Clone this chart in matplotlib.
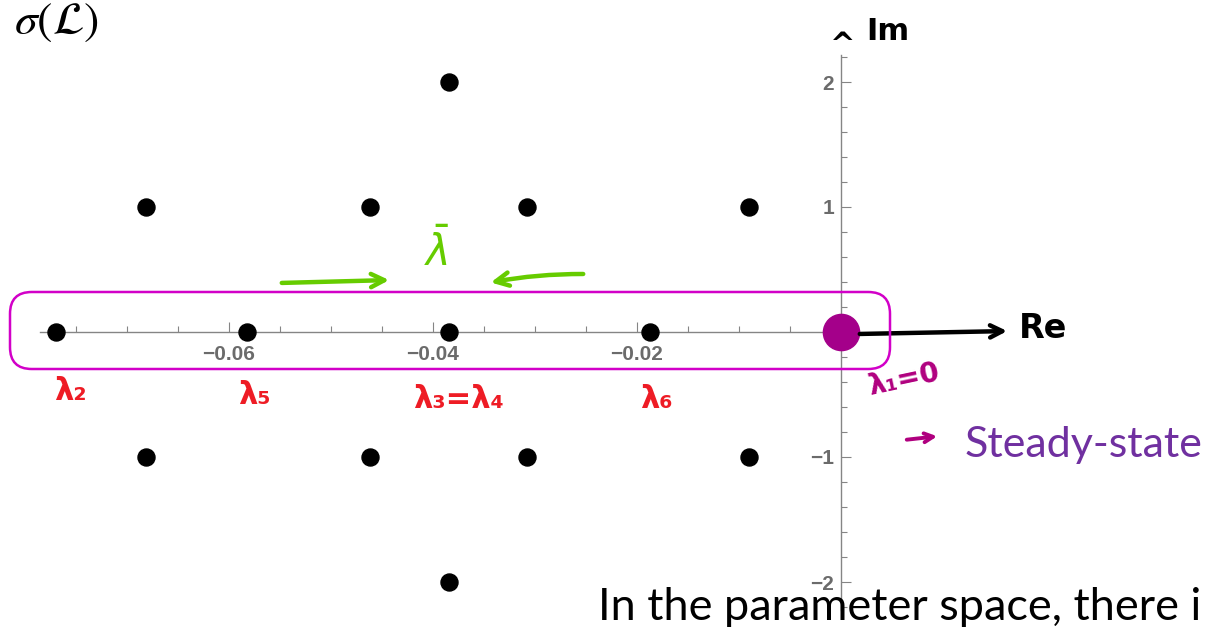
import matplotlib
matplotlib.use("Agg")
import matplotlib.pyplot as plt
from matplotlib.ticker import FixedLocator, FixedFormatter
from matplotlib.patches import FancyBboxPatch

# ---------------- data ----------------
re_axis = [-0.0770, -0.0582, -0.0384, -0.0187]          # eigenvalues on the real axis
re_upper = [-0.0681, -0.0462, -0.0308, -0.0090]         # Im = +1
im_upper = [1, 1, 1, 1]
re_lower = [-0.0681, -0.0462, -0.0308, -0.0090]         # Im = -1
im_lower = [-1, -1, -1, -1]
re_far = [-0.0384, -0.0384]                             # Im = +-2
im_far = [2, -2]
steady_re = [0.0]
steady_im = [0.0]

x_major = [-0.06, -0.04, -0.02]
x_major_labels = ["\u22120.06", "\u22120.04", "\u22120.02"]
x_minor = [-0.075, -0.07, -0.065, -0.055, -0.05, -0.045, -0.035, -0.03,
           -0.025, -0.015, -0.01, -0.005]
y_major = [-2, -1, 1, 2]
y_major_labels = ["\u22122", "\u22121", "1", "2"]
y_minor = [-2.2, -1.8, -1.6, -1.4, -1.2, -0.8, -0.6, -0.4, -0.2,
           0.2, 0.4, 0.6, 0.8, 1.2, 1.4, 1.6, 1.8, 2.2]

W, H = 1210, 627
fig = plt.figure(figsize=(W / 100, H / 100), dpi=100)
ax = fig.add_axes([0, 0, 1, 1])
ax.set_xlim(-841 / 10200, 369 / 10200)
ax.set_ylim((332 - H) / 125, 332 / 125)


def F(xp, yp):
    return (xp / W, 1 - yp / H)


gray = "#858585"
for s in ["top", "right"]:
    ax.spines[s].set_visible(False)
ax.spines["left"].set_position(("data", 0))
ax.spines["bottom"].set_position(("data", 0))
ax.spines["left"].set_bounds(-2.22, 2.22)
ax.spines["bottom"].set_bounds(-0.0785, 0.001)
for s in ["left", "bottom"]:
    ax.spines[s].set_color(gray)
    ax.spines[s].set_linewidth(1.0)

ax.xaxis.set_major_locator(FixedLocator(x_major))
ax.xaxis.set_major_formatter(FixedFormatter(x_major_labels))
ax.xaxis.set_minor_locator(FixedLocator(x_minor))
ax.yaxis.set_major_locator(FixedLocator(y_major))
ax.yaxis.set_major_formatter(FixedFormatter(y_major_labels))
ax.yaxis.set_minor_locator(FixedLocator(y_minor))
ax.tick_params(which="both", direction="in", color=gray, width=0.8)
ax.tick_params(which="major", length=7.2)
ax.tick_params(which="minor", length=4.3)
ax.tick_params(axis="x", which="major", pad=9, labelsize=15, labelcolor="#6b6b6b")
ax.tick_params(axis="y", which="major", pad=5, labelsize=15, labelcolor="#6b6b6b")
for lab in ax.get_xticklabels() + ax.get_yticklabels():
    lab.set_fontweight("bold")
    lab.set_family("Liberation Sans")

# ---------------- points ----------------
ax.scatter(re_axis, [0] * len(re_axis), s=150, color="black", zorder=5)
ax.scatter(re_upper, im_upper, s=150, color="black", zorder=5)
ax.scatter(re_lower, im_lower, s=150, color="black", zorder=5)
ax.scatter(re_far, im_far, s=150, color="black", zorder=5)
ax.scatter(steady_re, steady_im, s=680, color="#a4008a", zorder=6)

# ---------------- annotations ----------------
magenta = "#d200c8"
box = FancyBboxPatch(F(10, 369), (890 - 10) / W, (369 - 292) / H,
                     boxstyle="round,pad=0,rounding_size=0.018",
                     transform=fig.transFigure, fill=False,
                     edgecolor=magenta, linewidth=1.8, zorder=4,
                     mutation_aspect=W / H)
fig.patches.append(box)

# sigma(L)
fig.text(*F(14, 22), r"$\sigma(\mathcal{L})$", fontsize=33, va="center", ha="left",
         math_fontfamily="stix")

# Im / Re hand annotations
fig.text(*F(843, 45), "^", fontsize=22, fontweight="bold", ha="center", va="center")
fig.text(*F(866, 32), "Im", fontsize=22, fontweight="bold", ha="left", va="center",
         family="DejaVu Sans")
ax.annotate("", xy=F(1010, 331), xytext=F(857, 334),
            xycoords="figure fraction", textcoords="figure fraction",
            arrowprops=dict(arrowstyle="->", lw=3.2, color="black",
                            mutation_scale=22), zorder=7)
fig.text(*F(1019, 328), "Re", fontsize=24, fontweight="bold", ha="left", va="center",
         family="DejaVu Sans")

# red eigenvalue labels
red = "#ee1c25"
red_labels = [(70, 392, "\u03bb\u2082"), (254, 396, "\u03bb\u2085"),
              (458, 400, "\u03bb\u2083=\u03bb\u2084"), (656, 400, "\u03bb\u2086")]
for xp, yp, t in red_labels:
    fig.text(*F(xp, yp), t, color=red, fontsize=22, fontweight="bold",
             ha="center", va="center", family="DejaVu Sans")

# green lambda-bar and arrows
green = "#66cc00"
fig.text(*F(437, 252), r"$\bar{\lambda}$", color=green, fontsize=30,
         ha="center", va="center")
ax.annotate("", xy=F(392, 280), xytext=F(279, 283),
            xycoords="figure fraction", textcoords="figure fraction",
            arrowprops=dict(arrowstyle="->", lw=3.2, color=green, mutation_scale=24))
ax.annotate("", xy=F(488, 283), xytext=F(586, 274),
            xycoords="figure fraction", textcoords="figure fraction",
            arrowprops=dict(arrowstyle="->", lw=3.2, color=green, mutation_scale=24,
                            connectionstyle="arc3,rad=0.05"))

# lambda_1 = 0
pm = "#b0007f"
fig.text(*F(904, 380), "\u03bb\u2081=0", color=pm, fontsize=20, fontweight="bold",
         ha="center", va="center", rotation=12, family="DejaVu Sans")
ax.annotate("", xy=F(940, 436), xytext=F(904, 440),
            xycoords="figure fraction", textcoords="figure fraction",
            arrowprops=dict(arrowstyle="->", lw=2.8, color=pm, mutation_scale=16))

# Slide text
fig.text(*F(965, 445), "Steady-state", color="#7030a0", fontsize=31,
         ha="left", va="center", family="Lato")
fig.text(*F(598, 608), "In the parameter space, there i", color="black", fontsize=32.5,
         ha="left", va="center", family="Lato", zorder=10)

fig.savefig("out.png", dpi=100)
